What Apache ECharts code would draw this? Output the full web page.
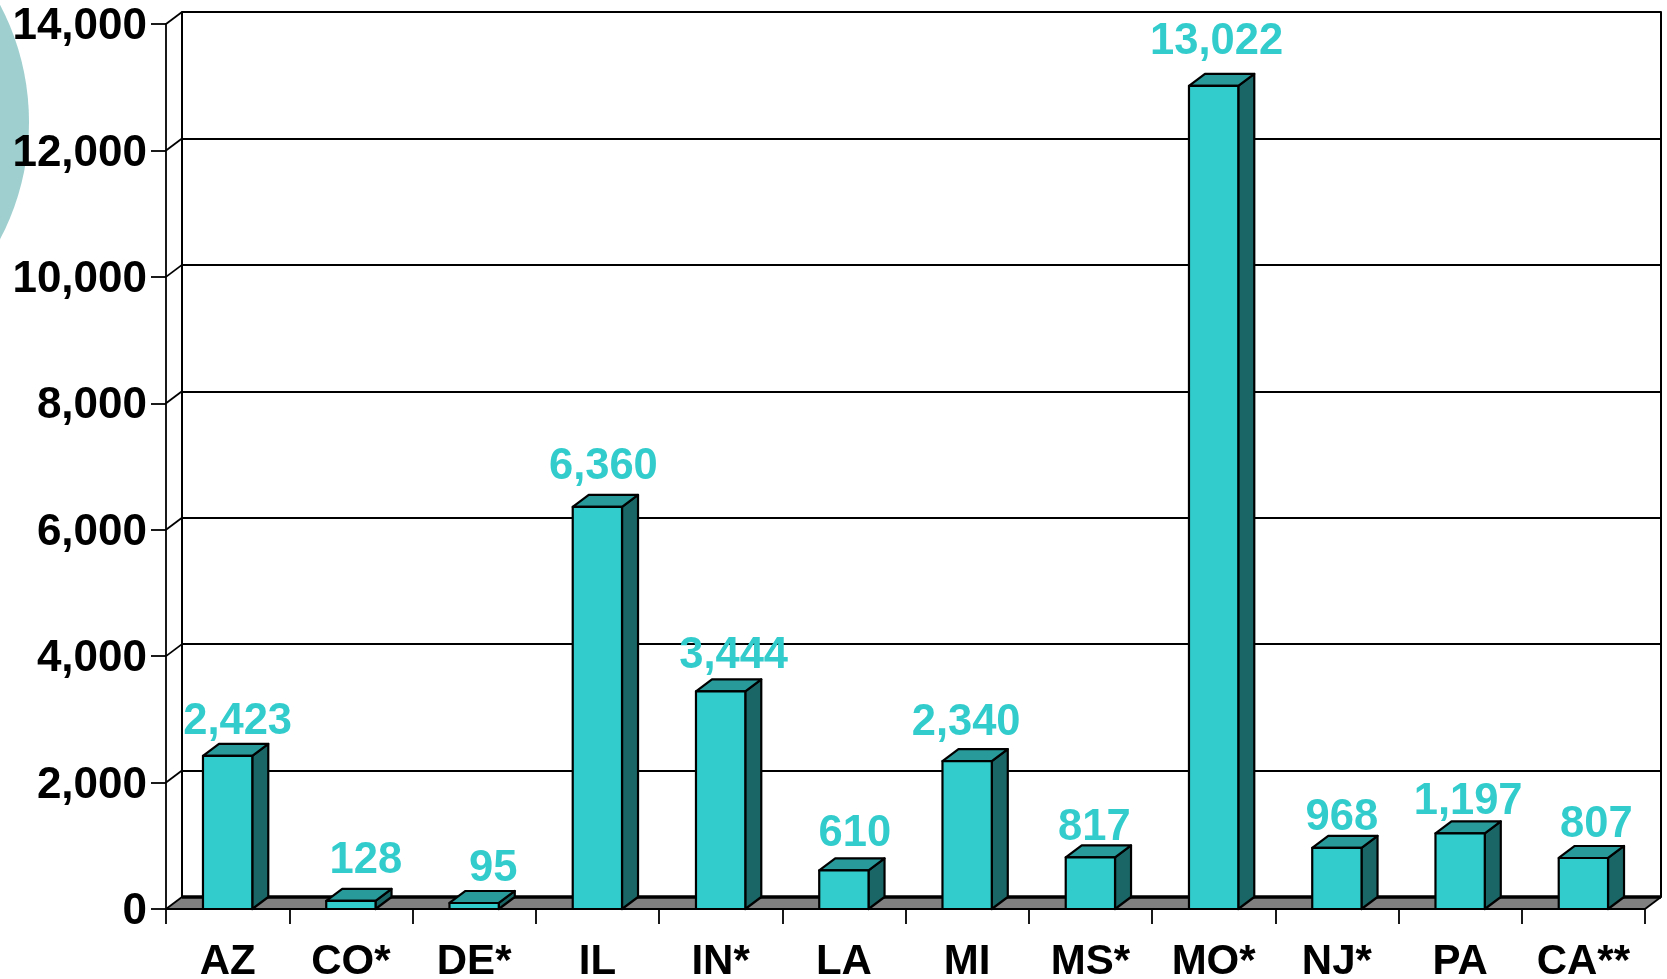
<!DOCTYPE html>
<html>
<head>
<meta charset="utf-8">
<style>html,body{margin:0;padding:0;background:#fff}#c{width:1667px;height:979px}</style>
<script src="https://cdn.jsdelivr.net/npm/echarts@6/dist/echarts.min.js"></script>
</head>
<body>
<div id="c"></div>
<script>
const categories = ['AZ','CO*','DE*','IL','IN*','LA','MI','MS*','MO*','NJ*','PA','CA**'];
const values = [2423,128,95,6360,3444,610,2340,817,13022,968,1197,807];
const yTicks = [0,2000,4000,6000,8000,10000,12000,14000];

// Hand-placed label nudges seen in the original, in pixels from the bar's top centre
const labelNudgeX = [10,15,19,6,13,11,-1,4,3,5,8,13];
const labelNudgeY = [-34,-40,-34,-40,-35,-36,-38,-29,-44,-30,-31,-33];

const DX = 16, DY = 12, BAR_RATIO = 0.4, FONT = 'Liberation Sans, Arial, sans-serif';
const FRONT = '#33CCCC', TOP = '#299A9A', SIDE = '#1A6666', INK = '#000';
const fmt = v => v.toLocaleString('en-US');
const chart = echarts.init(document.getElementById('c'), null, {renderer:'canvas'});

function renderFrame(params, api) {
  const v = api.value(1), cs = params.coordSys;
  const y = api.coord([0, v])[1], l = cs.x, r = cs.x + cs.width;
  const kids = [{type:'line', shape:{x1:l,y1:y,x2:l+DX,y2:y-DY}, style:{stroke:INK,lineWidth:1.8}}];
  if (v === 0) {
    kids.unshift({type:'polygon', shape:{points:[[l,y],[l+DX,y-DY],[r+DX,y-DY],[r,y]]},
      style:{fill:'#808080',stroke:null}});
    kids.push(
      {type:'line', shape:{x1:l+DX,y1:y-DY,x2:r+DX,y2:y-DY}, style:{stroke:INK,lineWidth:3.5}},
      {type:'line', shape:{x1:r,y1:y,x2:r+DX,y2:y-DY}, style:{stroke:INK,lineWidth:1.8}},
      {type:'line', shape:{x1:l,y1:y,x2:r,y2:y}, style:{stroke:INK,lineWidth:1.8}}
    );
  }
  return {type:'group', children:kids};
}

function renderBar(params, api) {
  const i = api.value(0), val = api.value(1);
  const top = api.coord([i, val]), base = api.coord([i, 0]);
  const w = api.size([1, 0])[0] * BAR_RATIO;
  const x0 = top[0] - w/2, x1 = top[0] + w/2, y0 = top[1], y1 = base[1];
  const st = fill => ({fill, stroke:INK, lineWidth:2.2, lineJoin:'round'});
  return {type:'group', children:[
    {type:'polygon', shape:{points:[[x1,y0],[x1+DX,y0-DY],[x1+DX,y1-DY],[x1,y1]]}, style:st(SIDE)},
    {type:'polygon', shape:{points:[[x0,y0],[x0+DX,y0-DY],[x1+DX,y0-DY],[x1,y0]]}, style:st(TOP)},
    {type:'rect', shape:{x:x0,y:y0,width:w,height:y1-y0}, style:st(FRONT)},
    {type:'text', z2:50, style:{
      x:top[0]+labelNudgeX[i], y:y0+labelNudgeY[i], text:fmt(val),
      fill:FRONT, font:'bold 43.5px '+FONT, textAlign:'center', textVerticalAlign:'middle'}}
  ]};
}

chart.setOption({
  animation:false,
  backgroundColor:'#fff',
  graphic:[{type:'circle', silent:true, z:-10, shape:{cx:-223,cy:122,r:252}, style:{fill:'#9FCFCF'}}],
  grid:[
    {left:166, top:24, width:1479, height:885, outerBoundsMode:'none'},
    {left:182, top:12, width:1479, height:885, outerBoundsMode:'none'}
  ],
  xAxis:[
    {type:'category', gridIndex:0, data:categories,
     axisLine:{show:false},
     axisTick:{show:true,alignWithLabel:false,length:15,lineStyle:{color:INK,width:1.8}},
     axisLabel:{color:INK,fontFamily:FONT,fontWeight:'bold',fontSize:42,margin:32,interval:0,hideOverlap:false},
     splitLine:{show:false}},
    {type:'category', gridIndex:1, data:categories, show:false}
  ],
  yAxis:[
    {type:'value', gridIndex:0, min:0, max:14000, interval:2000,
     axisLine:{show:true,lineStyle:{color:INK,width:1.8}},
     axisTick:{show:true,length:15,lineStyle:{color:INK,width:1.8}},
     axisLabel:{color:INK,fontFamily:FONT,fontWeight:'bold',fontSize:44,margin:19,formatter:fmt,hideOverlap:false,verticalAlign:'top',lineHeight:6},
     splitLine:{show:false}},
    {type:'value', gridIndex:1, min:0, max:14000, interval:2000,
     axisLine:{show:true,lineStyle:{color:INK,width:2}},
     axisTick:{show:false}, axisLabel:{show:false},
     splitLine:{show:true,lineStyle:{color:INK,width:2}}},
    {type:'value', gridIndex:1, position:'right', min:0, max:14000, interval:2000,
     axisLine:{show:true,onZero:false,lineStyle:{color:INK,width:2}},
     axisTick:{show:false}, axisLabel:{show:false}, splitLine:{show:false}}
  ],
  series:[
    {type:'custom', name:'frame', xAxisIndex:0, yAxisIndex:0, clip:false, z:3, silent:true,
     renderItem:renderFrame, data:yTicks.map(v => [0, v]), encode:{x:0,y:1}},
    {type:'custom', name:'bars', xAxisIndex:0, yAxisIndex:0, clip:false, z:5, silent:true,
     renderItem:renderBar, data:values.map((v,i) => [i, v]), encode:{x:0,y:1}}
  ]
});
</script>
</body>
</html>
